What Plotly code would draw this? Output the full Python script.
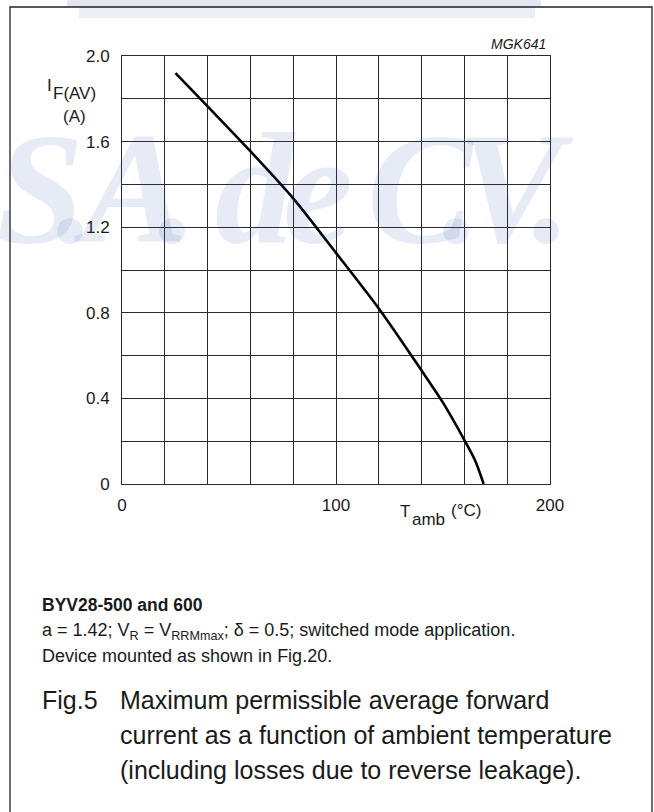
import plotly.graph_objects as go

# Derating curve: maximum average forward current vs ambient temperature
t_amb = [25, 40, 60, 80, 100, 120, 140, 150, 160, 165, 169]
i_fav = [1.92, 1.765, 1.555, 1.335, 1.08, 0.82, 0.53, 0.38, 0.205, 0.11, 0.0]

x_ticks = [0, 100, 200]
x_tick_text = ["0", "100", "200"]
y_ticks = [0, 0.4, 0.8, 1.2, 1.6, 2.0]
y_tick_text = ["0", "0.4", "0.8", "1.2", "1.6", "2.0"]

W, H = 654, 812
L, R, T, B = 122, 550, 56, 484  # plot area edges in pixels
FONT = "Liberation Sans, Arial, sans-serif"
INK = "#1a1a1a"


def px(x):
    return (x - L) / (R - L)


def py(y):
    return (B - y) / (B - T)


fig = go.Figure()
fig.add_trace(go.Scatter(
    x=t_amb, y=i_fav, mode="lines",
    line=dict(color="#000000", width=2.6, shape="spline", smoothing=0.8),
    hoverinfo="skip", showlegend=False,
))

grid = "#2b2b2b"
fig.update_xaxes(
    range=[0, 200], tickvals=x_ticks, ticktext=x_tick_text,
    showgrid=True, gridcolor=grid, gridwidth=1,
    minor=dict(dtick=20, showgrid=True, gridcolor=grid, gridwidth=1),
    showline=True, linecolor=grid, linewidth=1, mirror=True,
    zeroline=False, ticks="", ticklabelstandoff=6,
    tickfont=dict(family=FONT, size=17, color=INK), fixedrange=True,
)
fig.update_yaxes(
    range=[0, 2.0], tickvals=y_ticks, ticktext=y_tick_text,
    showgrid=True, gridcolor=grid, gridwidth=1,
    minor=dict(dtick=0.2, showgrid=True, gridcolor=grid, gridwidth=1),
    showline=True, linecolor=grid, linewidth=1, mirror=True,
    zeroline=False, ticks="", ticklabelstandoff=8,
    tickfont=dict(family=FONT, size=17, color=INK), fixedrange=True,
)

ann = []


def text(x, y, s, size=14, xanchor="left", yanchor="middle", **font):
    ann.append(dict(
        x=px(x), y=py(y), xref="paper", yref="paper", text=s,
        showarrow=False, xanchor=xanchor, yanchor=yanchor,
        font=dict(family=font.pop("family", FONT), size=size,
                  color=font.pop("color", INK)),
        **font,
    ))


# faint company watermark behind the grid
wm = "rgba(40,70,160,0.11)"
for ch, cx in [("S", 40), (".", 76), ("A", 130), (".", 178), ("d", 255),
               ("e", 318), ("C", 420), (".", 462), ("V", 515), (".", 552)]:
    text(cx, 188, "<b><i>%s</i></b>" % ch, size=158, xanchor="center",
         family="Liberation Serif, Times New Roman, serif", color=wm)

# chart code
text(548, 44, "<i>MGK641</i>", size=14, xanchor="right")

# axis titles
text(45, 86, "I", size=17)
text(51, 93, "F(AV)", size=17)
text(74, 116, "(A)", size=17, xanchor="center")
text(398, 511, "T", size=17)
text(410, 519, "amb", size=17)
text(449, 510, "(°C)", size=17)

# caption block
text(40, 605, "<b>BYV28-500 and 600</b>", size=17.5)
text(40, 631, "a = 1.42; V<sub>R</sub> = V<sub>RRMmax</sub>; δ = 0.5; switched mode application.", size=18)
text(40, 656, "Device mounted as shown in Fig.20.", size=18)
text(40, 700, "Fig.5", size=25)
text(118, 700, "Maximum permissible average forward", size=25)
text(118, 735, "current as a function of ambient temperature", size=25)
text(118, 770, "(including losses due to reverse leakage).", size=25)

shapes = [
    # pale band along the top edge
    dict(type="rect", xref="paper", yref="paper", x0=px(67), x1=px(541),
         y0=py(0), y1=py(7), fillcolor="#e4e7f1", line=dict(width=0), layer="below"),
    dict(type="rect", xref="paper", yref="paper", x0=px(79), x1=px(535),
         y0=py(7), y1=py(18), fillcolor="#eceef6", line=dict(width=0), layer="below"),
    # outer frame
    dict(type="rect", xref="paper", yref="paper", x0=px(10), x1=px(652),
         y0=py(830), y1=py(7), fillcolor="rgba(0,0,0,0)",
         line=dict(color="#222222", width=1.3)),
]

fig.update_layout(
    width=W, height=H, autosize=False,
    margin=dict(l=L, r=W - R, t=T, b=H - B),
    paper_bgcolor="white", plot_bgcolor="rgba(0,0,0,0)",
    annotations=ann, shapes=shapes, showlegend=False,
)

fig.write_html("out.html", config=dict(displayModeBar=False))
